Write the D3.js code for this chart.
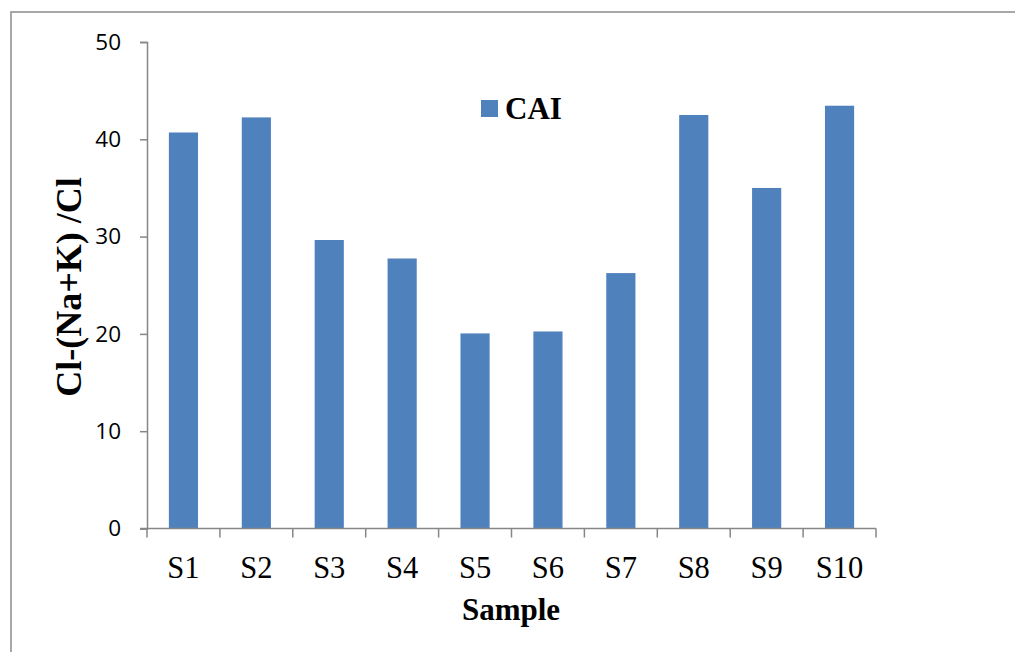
<!DOCTYPE html>
<html>
<head>
<meta charset="utf-8">
<script src="https://cdn.jsdelivr.net/npm/d3@7"></script>
<style>
  html, body { margin: 0; padding: 0; background: #fff; }
  svg { display: block; }
</style>
</head>
<body>
<svg id="chart" width="1015" height="652"></svg>
<script>
// Chloro-alkaline index per sample
const samples = ["S1", "S2", "S3", "S4", "S5", "S6", "S7", "S8", "S9", "S10"];
const caiValues = [40.7, 42.25, 29.65, 27.75, 20.05, 20.25, 26.25, 42.5, 35.0, 43.45];
const yTicks = [0, 10, 20, 30, 40, 50];
const seriesName = "CAI";
const xTitle = "Sample";
const yTitle = "Cl-(Na+K) /Cl";

const svg = d3.select("#chart");
const axisColor = "#868686";
const barColor = "#4f81bd";
const serif = "'Liberation Serif', 'Times New Roman', serif";
const sans = "'Open Sans', 'Liberation Sans', sans-serif";

// chart frame (open to the right and bottom)
svg.append("rect")
  .attr("x", 11).attr("y", 12)
  .attr("width", 1100).attr("height", 700)
  .attr("fill", "none")
  .attr("stroke", "#8c8c8c")
  .attr("stroke-width", 1.5);

const plot = { left: 147, right: 876, top: 42, bottom: 528.5 };

const x = d3.scaleBand()
  .domain(samples)
  .range([plot.left, plot.right])
  .paddingInner(0.6)
  .paddingOuter(0.3);

const xTicksScale = d3.scaleBand().domain(samples).range([plot.left, plot.right]);

const y = d3.scaleLinear()
  .domain([0, 50])
  .range([plot.bottom, plot.top]);

// bars
svg.append("g")
  .selectAll("rect")
  .data(samples)
  .join("rect")
  .attr("x", d => x(d))
  .attr("width", x.bandwidth())
  .attr("y", (d, i) => y(caiValues[i]))
  .attr("height", (d, i) => y(0) - y(caiValues[i]))
  .attr("fill", barColor);

// y axis
const yAxis = svg.append("g")
  .attr("transform", `translate(${plot.left},0)`)
  .call(d3.axisLeft(y).tickValues(yTicks).tickSize(7).tickPadding(19));
yAxis.select(".domain").attr("stroke", axisColor).attr("stroke-width", 1.5);
yAxis.selectAll(".tick line").attr("stroke", axisColor).attr("stroke-width", 1.5);
yAxis.selectAll(".tick text")
  .attr("fill", "#000")
  .style("font-family", sans)
  .style("font-size", "22.5px");

// x axis: category boundaries as tick marks
const xAxisG = svg.append("g").attr("transform", `translate(0,${plot.bottom})`);
xAxisG.append("line")
  .attr("x1", plot.left - 7).attr("x2", plot.right)
  .attr("stroke", axisColor).attr("stroke-width", 1.5);
const bounds = samples.map(d => xTicksScale(d)).concat([plot.right]);
xAxisG.selectAll("line.tk")
  .data(bounds)
  .join("line")
  .attr("class", "tk")
  .attr("x1", d => d).attr("x2", d => d)
  .attr("y1", 0).attr("y2", 9)
  .attr("stroke", axisColor).attr("stroke-width", 1.5);
xAxisG.selectAll("text")
  .data(samples)
  .join("text")
  .attr("x", d => xTicksScale(d) + xTicksScale.bandwidth() / 2)
  .attr("y", 49)
  .attr("text-anchor", "middle")
  .style("font-family", serif)
  .style("font-size", "30.5px")
  .text(d => d);

// axis titles
svg.append("text")
  .attr("x", 511).attr("y", 620)
  .attr("text-anchor", "middle")
  .style("font-family", serif)
  .style("font-weight", "bold")
  .style("font-size", "31px")
  .text(xTitle);

svg.append("text")
  .attr("transform", "translate(81,287) rotate(-90)")
  .attr("text-anchor", "middle")
  .style("font-family", serif)
  .style("font-weight", "bold")
  .style("font-size", "36px")
  .text(yTitle);

// legend
const legend = svg.append("g").attr("transform", "translate(481,100)");
legend.append("rect")
  .attr("width", 17).attr("height", 17)
  .attr("fill", barColor);
legend.append("text")
  .attr("x", 24).attr("y", 19)
  .style("font-family", serif)
  .style("font-weight", "bold")
  .style("font-size", "31px")
  .text(seriesName);
</script>
</body>
</html>
